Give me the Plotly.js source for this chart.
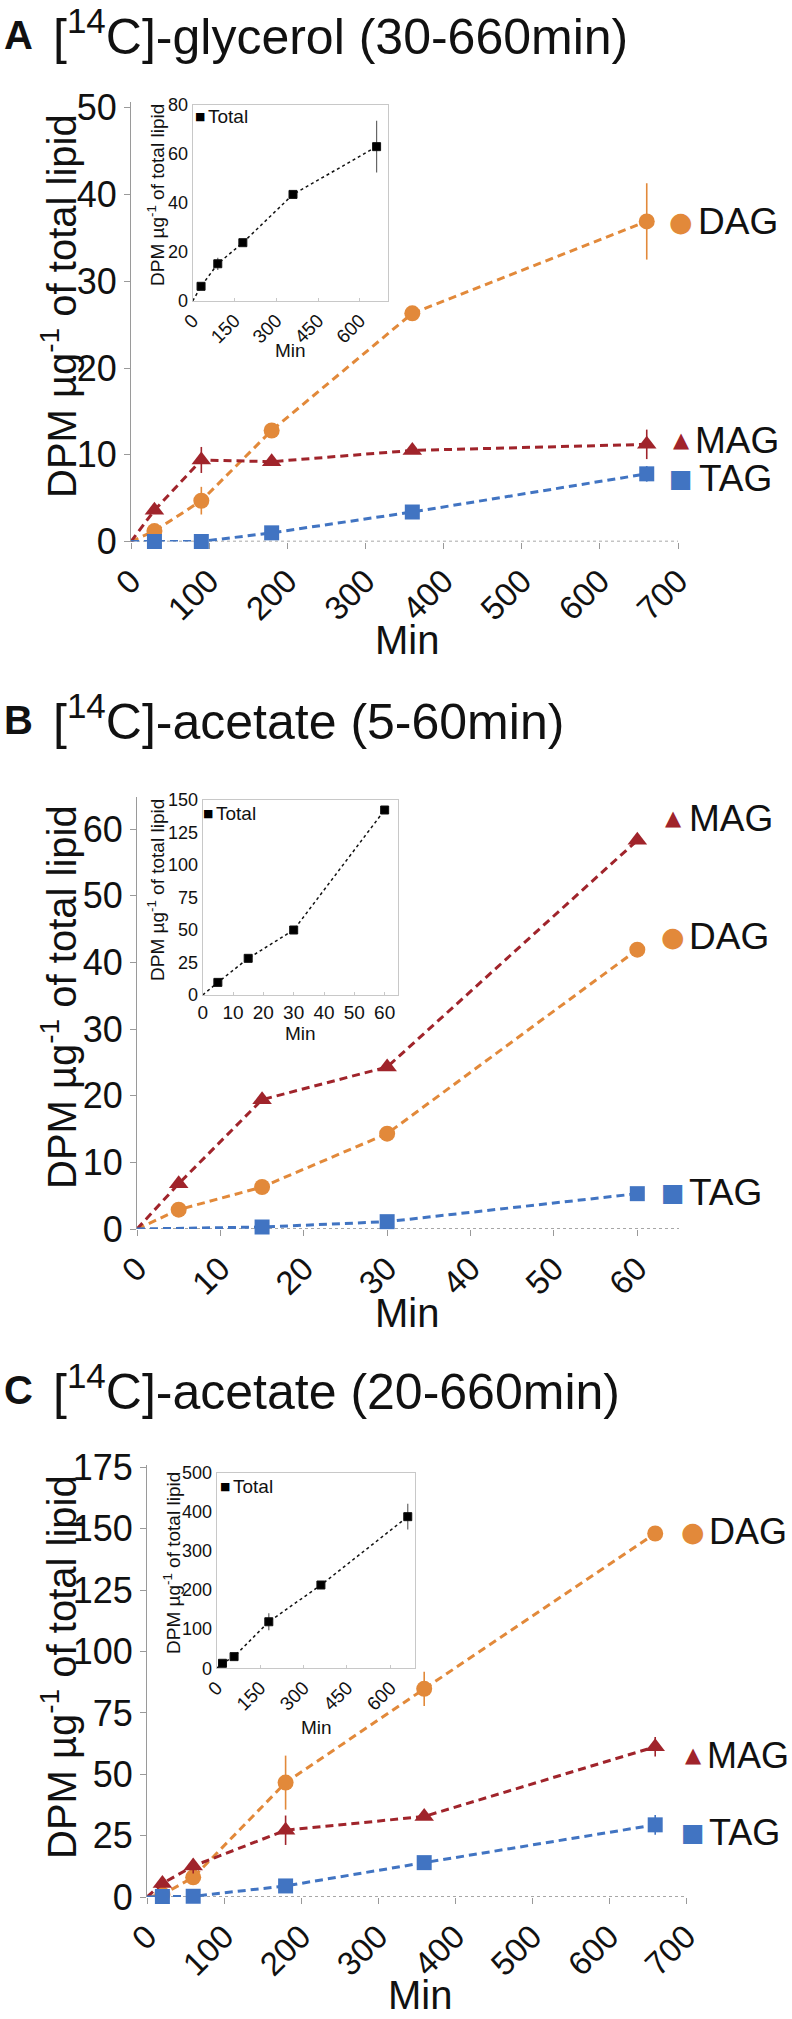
<!DOCTYPE html>
<html>
<head>
<meta charset="utf-8">
<script src="https://cdn.plot.ly/plotly-3.0.1.min.js"></script>
<style>html,body{margin:0;padding:0;background:#fff;}#chart{width:792px;height:2019px;}</style>
</head>
<body>
<div id="chart"></div>
<script>
// ---------- DATA ----------
// Panel A: [14C]-glycerol (30-660 min)
const timesA = [30, 90, 180, 360, 660];
const dagA = [1.2, 4.7, 12.8, 26.3, 36.9];
const dagAErr = [0.3, 1.6, 0.6, 0.4, 4.4];
const magA = [3.6, 9.4, 9.2, 10.5, 11.2];
const magAErr = [0.3, 1.5, 0.3, 0.3, 1.7];
const tagA = [0.0, 0.0, 1.0, 3.4, 7.8];
const tagAErr = [0.0, 0.0, 0.2, 0.3, 0.9];
const totalA = [6.0, 15.2, 23.8, 43.5, 63.0];
const totalAErr = [0.5, 2.5, 0.5, 1.5, 10.6];

// Panel B: [14C]-acetate (5-60 min)
const timesB = [5, 15, 30, 60];
const magB = [6.8, 19.4, 24.3, 58.3];
const dagB = [2.9, 6.3, 14.3, 41.9];
const timesTagB = [15, 30, 60];
const tagB = [0.3, 1.1, 5.3];
const totalB = [9.7, 28.2, 50.0, 142.3];

// Panel C: [14C]-acetate (20-660 min)
const timesC = [20, 60, 180, 360, 660];
const dagC = [1.0, 8.0, 46.6, 84.8, 148.1];
const dagCErr = [0.0, 1.0, 11.0, 7.0, 1.0];
const magC = [5.5, 12.6, 27.2, 32.8, 61.2];
const magCErr = [0.5, 3.0, 6.0, 1.0, 4.0];
const tagC = [0.2, 0.3, 4.5, 14.0, 29.4];
const tagCErr = [0.0, 0.0, 0.5, 0.5, 4.0];
const totalC = [12.8, 29.8, 119.0, 212.9, 387.6];
const totalCErr = [0.0, 3.0, 22.0, 3.0, 33.0];

const titleA = '[<sup>14</sup>C]-glycerol (30-660min)';
const titleB = '[<sup>14</sup>C]-acetate (5-60min)';
const titleC = '[<sup>14</sup>C]-acetate (20-660min)';
const yTitle = 'DPM µg<sup>-1</sup> of total lipid';
const xTitle = 'Min';
const insetLegend = 'Total';

// ---------- STYLE ----------
const W = 792, H = 2019;
const FONT = 'Liberation Sans, Arial, Helvetica, sans-serif';
const COL = {DAG: '#E2893A', MAG: '#A0242B', TAG: '#4174C2'};
const SYM = {DAG: 'circle', MAG: 'triangle-up', TAG: 'square'};
const GLYPH = {DAG: '\u25CF', MAG: '\u25B2', TAG: '\u25A0'};
const GSIZE = {DAG: 27, MAG: 21, TAG: 25};
const MSIZE = {DAG: 16, MAG: 17, TAG: 15};

function px(xp) { return xp / W; }
function py(yp) { return 1 - yp / H; }

const traces = [];
function mainTrace(name, t, v, err, xa, ya) {
  const x = [0].concat(t), y = [0].concat(v);
  const sizes = [0].concat(t.map(() => MSIZE[name]));
  const tr = {
    type: 'scatter', mode: 'lines+markers', name: name, x: x, y: y,
    xaxis: xa, yaxis: ya, showlegend: false, cliponaxis: false,
    line: {color: COL[name], width: 3, dash: '8px,5px'},
    marker: {symbol: SYM[name], size: sizes, color: COL[name], opacity: 1, line: {width: 0}}
  };
  if (err) {
    tr.error_y = {type: 'data', array: [0].concat(err), visible: true,
      color: COL[name], thickness: 1.6, width: 0};
  }
  traces.push(tr);
}
function insetTrace(t, v, err, xa, ya) {
  const tr = {
    type: 'scatter', mode: 'lines+markers', name: insetLegend,
    x: [0].concat(t), y: [0].concat(v), xaxis: xa, yaxis: ya, showlegend: false,
    cliponaxis: false,
    line: {color: '#111', width: 1.5, dash: 'dot'},
    marker: {symbol: 'square', size: [0].concat(t.map(() => 8)), color: '#000', opacity: 1}
  };
  if (err) {
    tr.error_y = {type: 'data', array: [0].concat(err), visible: true,
      color: '#666', thickness: 1.2, width: 0};
  }
  traces.push(tr);
}

// Panel A
mainTrace('DAG', timesA, dagA, dagAErr, 'x', 'y');
mainTrace('MAG', timesA, magA, magAErr, 'x', 'y');
mainTrace('TAG', timesA, tagA, tagAErr, 'x', 'y');
insetTrace(timesA, totalA, totalAErr, 'x2', 'y2');
// Panel B
mainTrace('DAG', timesB, dagB, null, 'x3', 'y3');
mainTrace('MAG', timesB, magB, null, 'x3', 'y3');
mainTrace('TAG', timesTagB, tagB, null, 'x3', 'y3');
insetTrace(timesB, totalB, null, 'x4', 'y4');
// Panel C
mainTrace('DAG', timesC, dagC, dagCErr, 'x5', 'y5');
mainTrace('MAG', timesC, magC, magCErr, 'x5', 'y5');
mainTrace('TAG', timesC, tagC, tagCErr, 'x5', 'y5');
insetTrace(timesC, totalC, totalCErr, 'x6', 'y6');

// ---------- AXES ----------
function mainX(dom, range, dtick, anchor) {
  return {domain: dom, range: range, anchor: anchor, dtick: dtick, tick0: 0,
    showgrid: false, zeroline: false, showline: false,
    ticks: 'outside', ticklen: 6, tickcolor: '#999', tickwidth: 1,
    tickangle: -45, tickfont: {family: FONT, size: 33, color: '#111'}};
}
function mainY(dom, range, dtick, anchor) {
  return {domain: dom, range: range, anchor: anchor, dtick: dtick, tick0: 0,
    showgrid: false, zeroline: false, showline: true, linecolor: '#9a9a9a', linewidth: 1,
    ticks: 'outside', ticklen: 6, tickcolor: '#9a9a9a', tickwidth: 1,
    tickfont: {family: FONT, size: 36, color: '#111'}};
}
function insetX(dom, range, dtick, anchor, angle) {
  return {domain: dom, range: range, anchor: anchor, dtick: dtick, tick0: 0,
    showgrid: false, zeroline: false, showline: true, mirror: true,
    linecolor: '#c8c8c8', linewidth: 1, ticks: 'inside', ticklen: 3, tickcolor: '#c8c8c8',
    tickangle: angle, tickfont: {family: FONT, size: 19, color: '#111'}};
}
function insetY(dom, range, dtick, anchor) {
  return {domain: dom, range: range, anchor: anchor, dtick: dtick, tick0: 0,
    showgrid: false, zeroline: false, showline: true, mirror: true,
    linecolor: '#c8c8c8', linewidth: 1, ticks: '', ticklen: 0,
    tickfont: {family: FONT, size: 18, color: '#111'}};
}

const layout = {
  width: W, height: H, margin: {l: 0, r: 0, t: 0, b: 0},
  paper_bgcolor: '#fff', plot_bgcolor: 'rgba(0,0,0,0)', showlegend: false,
  font: {family: FONT, color: '#111'},
  xaxis: mainX([px(131), px(678)], [0, 700], 100, 'y'),
  yaxis: mainY([py(541.5), py(101.7)], [0, 50.7], 10, 'x'),
  xaxis2: insetX([px(192.7), px(388.3)], [0, 702], 150, 'y2', -45),
  yaxis2: insetY([py(301), py(105)], [0, 80], 20, 'x2'),
  xaxis3: mainX([px(137), px(679)], [0, 65], 10, 'y3'),
  yaxis3: mainY([py(1229), py(797)], [0, 64.8], 10, 'x3'),
  xaxis4: insetX([px(202.7), px(398.3)], [0, 64.5], 10, 'y4', 0),
  yaxis4: insetY([py(995), py(800)], [0, 150], 25, 'x4'),
  xaxis5: mainX([px(147), px(686)], [0, 700], 100, 'y5'),
  yaxis5: mainY([py(1897), py(1465)], [0, 176], 25, 'x5'),
  xaxis6: insetX([px(216.7), px(415)], [0, 685], 150, 'y6', -45),
  yaxis6: insetY([py(1668.3), py(1472.7)], [0, 500], 100, 'x6'),
  shapes: [],
  annotations: []
};

// dotted baseline (x axis line) for main panels
[['x', 'y'], ['x3', 'y3'], ['x5', 'y5']].forEach(([xa, ya]) => {
  layout.shapes.push({type: 'line', xref: xa + ' domain', yref: ya, x0: 0, x1: 1, y0: 0, y1: 0,
    line: {color: '#8a8a8a', width: 1.6, dash: 'dot'}, layer: 'below'});
});

const A = layout.annotations;
function ann(o) { A.push(Object.assign({showarrow: false, font: {family: FONT, size: 20, color: '#111'}}, o)); }

function panelTitle(letter, text, yc) {
  ann({text: '<b>' + letter + '</b>', xref: 'paper', yref: 'paper', x: px(2), y: py(yc + 2),
    xanchor: 'left', yanchor: 'middle', font: {family: FONT, size: 40, color: '#111'}});
  ann({text: text, xref: 'paper', yref: 'paper', x: px(51), y: py(yc), xanchor: 'left', yanchor: 'middle',
    font: {family: FONT, size: 50, color: '#111'}});
}
panelTitle('A', titleA, 33);
panelTitle('B', titleB, 718);
panelTitle('C', titleC, 1388);

function axisTitles(ycY, xcMin, ycMin) {
  ann({text: yTitle, xref: 'paper', yref: 'paper', x: px(59), y: py(ycY), textangle: -90,
    xanchor: 'center', yanchor: 'middle', font: {family: FONT, size: 40, color: '#111'}});
  const mt = {text: xTitle, xref: 'paper', yref: 'paper', x: px(xcMin),
    xanchor: 'center', font: {family: FONT, size: 40, color: '#111'}};
  if (ycMin === null) { mt.y = 0; mt.yanchor = 'bottom'; }
  else { mt.y = py(ycMin); mt.yanchor = 'middle'; }
  ann(mt);
}
axisTitles(306, 407, 640);
axisTitles(997, 407, 1313);
axisTitles(1667, 420, null);

function insetTitles(xcY, ycY, xcMin, ycMin, lx, ly) {
  ann({text: yTitle, xref: 'paper', yref: 'paper', x: px(xcY), y: py(ycY), textangle: -90,
    xanchor: 'center', yanchor: 'middle', font: {family: FONT, size: 19, color: '#111'}});
  ann({text: xTitle, xref: 'paper', yref: 'paper', x: px(xcMin), y: py(ycMin),
    xanchor: 'center', yanchor: 'middle', font: {family: FONT, size: 19, color: '#111'}});
  ann({text: '\u25A0', xref: 'paper', yref: 'paper', x: px(lx), y: py(ly),
    xanchor: 'center', yanchor: 'middle', font: {family: 'DejaVu Sans', size: 11, color: '#000'}});
  ann({text: insetLegend, xref: 'paper', yref: 'paper', x: px(lx + 6), y: py(ly),
    xanchor: 'left', yanchor: 'middle', font: {family: FONT, size: 19, color: '#111'}});
}
insetTitles(156, 195, 290.5, 350, 200, 116);
insetTitles(156, 890, 300.5, 1033, 208, 813);
insetTitles(172, 1563, 316, 1727, 225, 1486);

function endLabel(name, yref, yval, xSym, xText, fs) {
  ann({text: GLYPH[name], xref: 'paper', yref: yref, x: px(xSym), y: yval,
    xanchor: 'center', yanchor: 'middle',
    font: {family: 'DejaVu Sans', size: GSIZE[name], color: COL[name]}});
  ann({text: name, xref: 'paper', yref: yref, x: px(xText), y: yval,
    xanchor: 'left', yanchor: 'middle', font: {family: FONT, size: fs || 37, color: '#111'}});
}
endLabel('DAG', 'y', 36.9, 681, 696);
endLabel('MAG', 'y', 11.7, 681, 693);
endLabel('TAG', 'y', 7.3, 681, 697);
endLabel('MAG', 'y3', 61.6, 673, 687);
endLabel('DAG', 'y3', 43.9, 673, 687);
endLabel('TAG', 'y3', 5.5, 673, 687);
endLabel('DAG', 'y5', 149, 693, 707, 36);
endLabel('MAG', 'y5', 57.8, 693, 705, 36);
endLabel('TAG', 'y5', 26.3, 693, 707, 36);

Plotly.newPlot('chart', traces, layout, {displayModeBar: false, staticPlot: true});
</script>
</body>
</html>
